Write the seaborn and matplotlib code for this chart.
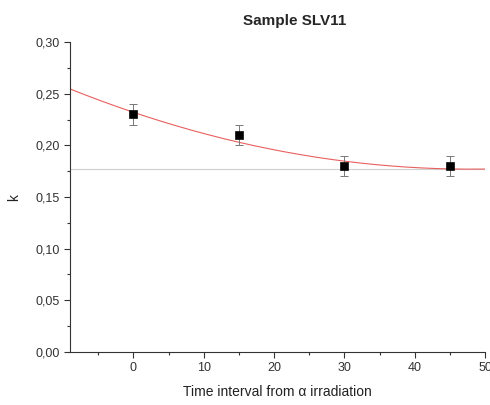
import numpy as np
import pandas as pd
import matplotlib
matplotlib.use("Agg")
import matplotlib.pyplot as plt
import seaborn as sns
from matplotlib.ticker import MultipleLocator, FuncFormatter

# data
time = [0, 15, 30, 45]
k_vals = [0.23, 0.21, 0.18, 0.18]
k_err = [0.01, 0.01, 0.01, 0.01]
# parabolic fit parameters: k = kmin + a*(t - t0)^2
fit_kmin = 0.177
fit_a = 2.39e-5
fit_t0 = 48.0
asymptote = 0.177

sns.set_theme(style="ticks")
plt.rcParams['font.family'] = ['Liberation Sans', 'DejaVu Sans']

fig = plt.figure(figsize=(4.9, 4.05), dpi=100)
ax = fig.add_axes([0.143, 0.131, 0.847, 0.765])

df = pd.DataFrame({"t": time, "k": k_vals})
tt = np.linspace(-9, 50, 300)
fit_df = pd.DataFrame({"t": tt, "k": fit_kmin + fit_a * (tt - fit_t0) ** 2})

ax.axhline(asymptote, color="#cfcfcf", lw=0.8, zorder=1)
sns.lineplot(data=fit_df, x="t", y="k", ax=ax, color="#e8605f", lw=0.8, zorder=2)
ax.errorbar(time, k_vals, yerr=k_err, fmt="none", ecolor="#777777",
            elinewidth=0.7, capsize=3, capthick=0.7, zorder=3)
sns.scatterplot(data=df, x="t", y="k", ax=ax, marker="s", s=34, color="black",
                edgecolor="black", zorder=4)

ax.set_xlim(-9, 50)
ax.set_ylim(0, 0.30)
ax.xaxis.set_major_locator(MultipleLocator(10))
ax.xaxis.set_minor_locator(MultipleLocator(5))
ax.yaxis.set_major_locator(MultipleLocator(0.05))
ax.yaxis.set_minor_locator(MultipleLocator(0.025))
ax.yaxis.set_major_formatter(FuncFormatter(lambda v, p: f"{v:.2f}".replace(".", ",")))
ax.tick_params(which="major", length=4, width=0.8, labelsize=9, colors="#333333")
ax.tick_params(which="minor", length=2.5, width=0.8, colors="#333333")
for s in ["top", "right"]:
    ax.spines[s].set_visible(False)
for s in ["left", "bottom"]:
    ax.spines[s].set_color("#333333")
    ax.spines[s].set_linewidth(0.8)

ax.set_xlabel("Time interval from α irradiation", fontsize=10, color="#222222", labelpad=8)
ax.set_ylabel("k", fontsize=10, color="#222222", labelpad=10)
ax.set_title("Sample SLV11", fontsize=11, fontweight="bold", pad=12, x=0.54)

fig.savefig("out.png", dpi=100)
